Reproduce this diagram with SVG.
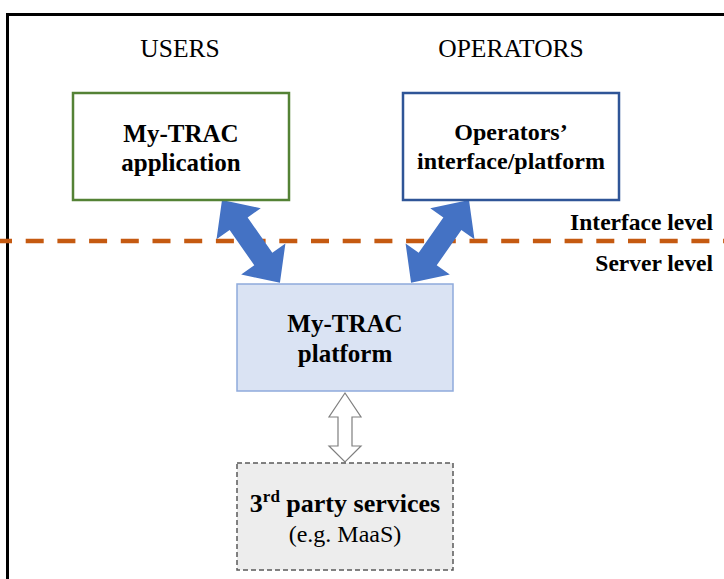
<svg xmlns="http://www.w3.org/2000/svg" width="724" height="579" viewBox="0 0 724 579">
<style>
text{font-family:'Liberation Serif','Times New Roman',Tinos,Times,serif;fill:#000;text-anchor:middle}
.b{font-weight:bold;font-size:25px}
.r{font-size:24px}
.h{font-size:25.5px}
.big{fill:#4472C4}
</style>
<defs>
<polygon id="dbl" points="0,0 29,-27 29,-11 72,-11 72,-27 101,0 72,27 72,11 29,11 29,27"/>
</defs>
<rect x="0" y="0" width="724" height="579" fill="#fff"/>
<rect x="7.5" y="14.5" width="800" height="700" fill="none" stroke="#000" stroke-width="3"/>
<text class="h" x="180" y="57">USERS</text>
<text class="h" x="511" y="57">OPERATORS</text>
<line x1="0" y1="241" x2="724" y2="241" stroke="#C55A11" stroke-width="4.5" stroke-dasharray="18,13.7" stroke-dashoffset="6"/>
<text x="713" y="230" style="text-anchor:end;font-weight:bold;font-size:23.5px">Interface level</text>
<text x="713" y="271" style="text-anchor:end;font-weight:bold;font-size:23.5px">Server level</text>
<g id="connectors">
<use href="#dbl" class="big" transform="translate(222,200) rotate(55)"/>
<use href="#dbl" class="big" transform="translate(469,200) rotate(125)"/>
<polygon points="345,393 361,417 352,417 352,446 361,446 345,462 329,446 338,446 338,417 329,417" fill="#fff" stroke="#7F7F7F" stroke-width="1.2"/>
</g>
<g id="app">
<rect x="73" y="93" width="216" height="107" fill="#fff" stroke="#548235" stroke-width="2.5"/>
<text class="b" x="181" y="142">My-TRAC</text>
<text class="b" x="181" y="171">application</text>
</g>
<g id="operators">
<rect x="403" y="93" width="216" height="107" fill="#fff" stroke="#2F5597" stroke-width="2.5"/>
<text class="b" x="511" y="140" style="font-size:24px">Operators’</text>
<text class="b" x="511" y="169" style="font-size:24px">interface/platform</text>
</g>
<g id="platform">
<rect x="237" y="284" width="216" height="107" fill="#DAE3F3" stroke="#8FAADC" stroke-width="1.5"/>
<text class="b" x="345" y="332">My-TRAC</text>
<text class="b" x="345" y="362">platform</text>
</g>
<g id="third">
<rect x="237" y="463" width="216" height="107" fill="#EDEDED" stroke="#595959" stroke-width="1.5" stroke-dasharray="5,3"/>
<text class="b" x="345" y="512" style="font-size:26px">3<tspan font-size="17" dy="-10">rd</tspan><tspan dy="10"> party services</tspan></text>
<text class="r" x="345" y="542">(e.g. MaaS)</text>
</g>
</svg>
